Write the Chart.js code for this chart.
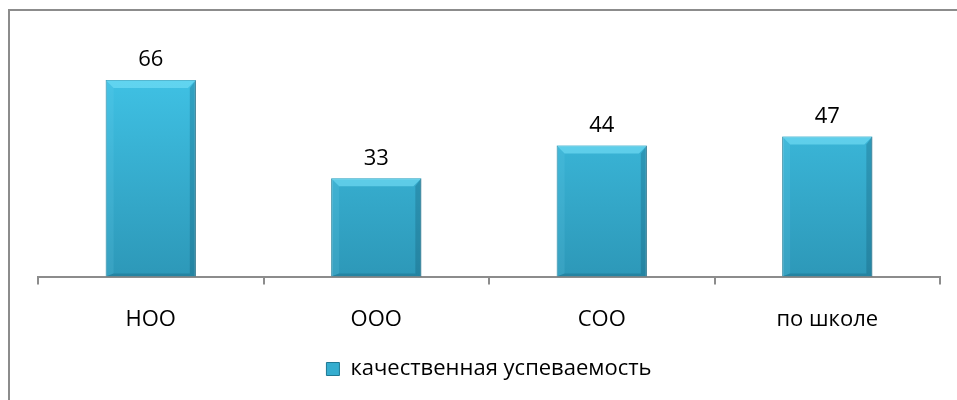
<!DOCTYPE html>
<html>
<head>
<meta charset="utf-8">
<script src="https://cdn.jsdelivr.net/npm/chart.js@4"></script>
<style>
    html, body { margin: 0; padding: 0; background: #fff; }
    #wrap { position: relative; width: 957px; height: 400px; overflow: hidden; }
    #frame {
        position: absolute; left: 8px; top: 9px; width: 1100px; height: 600px;
        border-left: 2px solid #8c8c8c; border-top: 2px solid #8c8c8c;
    }
    #myChart { position: absolute; left: 0; top: 0; }
</style>
</head>
<body>
<div id="wrap">
    <div id="frame"></div>
    <canvas id="myChart" width="957" height="400"></canvas>
</div>
<script>
// ------------------ DATA ------------------
const categories = ["НОО", "ООО", "СОО", "по школе"];
const seriesName = "качественная успеваемость";
const qualityValues = [66, 33, 44, 47];

const FONT = "'Open Sans', 'Noto Sans', sans-serif";

// bar fill: vertical gradient over the chart area
function barGradient(context) {
    const { chart } = context;
    const area = chart.chartArea;
    if (!area) return '#36b0d4';
    const g = chart.ctx.createLinearGradient(0, area.top, 0, area.bottom);
    g.addColorStop(0, '#40c3e6');
    g.addColorStop(1, '#2d98b8');
    return g;
}

// bevel edges on each bar, from the bar element geometry
const bevelPlugin = {
    id: 'bevel',
    afterDatasetsDraw(chart) {
        const ctx = chart.ctx;
        chart.getDatasetMeta(0).data.forEach((bar) => {
            const l = bar.x - bar.width / 2, r = bar.x + bar.width / 2;
            const t = bar.y, b = bar.base, s = 8;
            ctx.save();
            // top
            ctx.fillStyle = 'rgba(120, 225, 248, 0.6)';
            ctx.beginPath();
            ctx.moveTo(l, t); ctx.lineTo(r, t); ctx.lineTo(r - s, t + s); ctx.lineTo(l + s, t + s);
            ctx.fill();
            // left
            ctx.fillStyle = 'rgba(120, 215, 240, 0.15)';
            ctx.beginPath();
            ctx.moveTo(l, t); ctx.lineTo(l + s, t + s); ctx.lineTo(l + s, b - 3); ctx.lineTo(l, b);
            ctx.fill();
            // right
            ctx.fillStyle = 'rgba(10, 70, 95, 0.25)';
            ctx.beginPath();
            ctx.moveTo(r, t); ctx.lineTo(r - 6, t + s); ctx.lineTo(r - 6, b - 3); ctx.lineTo(r, b);
            ctx.fill();
            // bottom
            ctx.fillStyle = 'rgba(10, 70, 95, 0.25)';
            ctx.beginPath();
            ctx.moveTo(l, b); ctx.lineTo(l + s, b - 3); ctx.lineTo(r - 6, b - 3); ctx.lineTo(r, b);
            ctx.fill();
            ctx.restore();
        });
    }
};

// value labels above bars
const valueLabels = {
    id: 'valueLabels',
    afterDatasetsDraw(chart) {
        const ctx = chart.ctx;
        const ds = chart.data.datasets[0];
        ctx.save();
        ctx.font = "22px " + FONT;
        ctx.fillStyle = '#000';
        ctx.textAlign = 'center';
        ctx.textBaseline = 'middle';
        chart.getDatasetMeta(0).data.forEach((bar, i) => {
            ctx.fillText(ds.data[i], bar.x, bar.y - 20);
        });
        ctx.restore();
    }
};

// ------------------ CHART ------------------
function initChart() {
    const ctx = document.getElementById('myChart').getContext('2d');
    new Chart(ctx, {
        type: 'bar',
        data: {
            labels: categories,
            datasets: [{
                label: seriesName,
                data: qualityValues,
                backgroundColor: barGradient,
                borderColor: '#1f7893',
                borderWidth: 1,
                barPercentage: 0.4,
                categoryPercentage: 1.0,
            }],
        },
        options: {
            responsive: false,
            animation: false,
            layout: { padding: { left: 38, right: 17, top: 68, bottom: 10 } },
            scales: {
                x: {
                    offset: true,
                    grid: {
                        offset: true,
                        drawOnChartArea: false,
                        drawTicks: true,
                        tickLength: 8,
                        color: '#8c8c8c',
                        lineWidth: 2,
                    },
                    border: { color: '#8c8c8c', width: 2 },
                    ticks: {
                        color: '#000',
                        padding: 22,
                        font: { family: FONT, size: 22 },
                    },
                },
                y: {
                    display: false,
                    min: 0,
                    max: 70,
                },
            },
            plugins: {
                legend: {
                    position: 'bottom',
                    labels: {
                        color: '#000',
                        boxWidth: 13,
                        boxHeight: 13,
                        padding: 3,
                        font: { family: FONT, size: 22 },
                        generateLabels: (chart) => [{
                            text: seriesName,
                            fillStyle: '#35adcf',
                            strokeStyle: '#1f7893',
                            lineWidth: 1,
                            datasetIndex: 0,
                        }],
                    },
                },
                tooltip: { enabled: false },
            },
        },
        plugins: [bevelPlugin, valueLabels],
    });
}

document.addEventListener('DOMContentLoaded', initChart);
</script>
</body>
</html>
